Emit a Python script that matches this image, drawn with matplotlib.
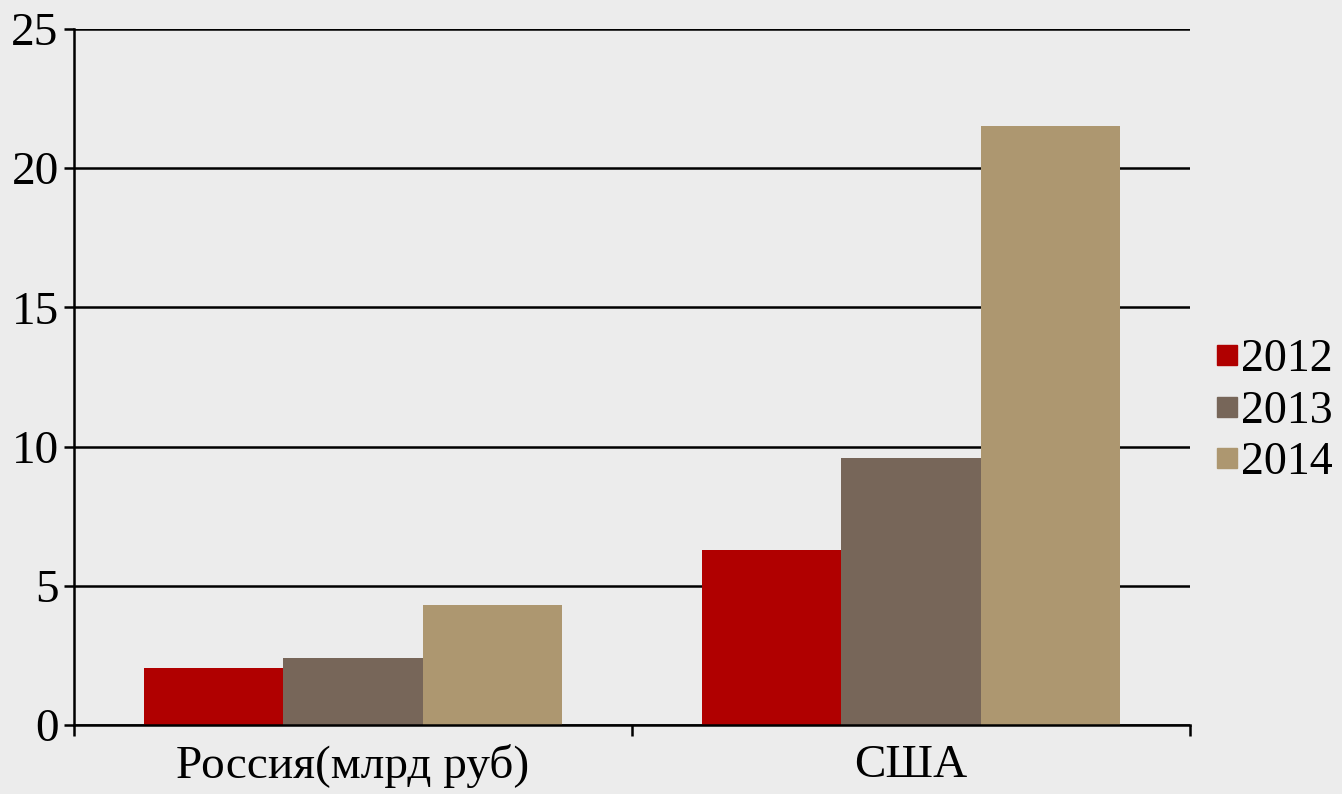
import numpy as np
import matplotlib.pyplot as plt
from matplotlib.lines import Line2D

# chart data
categories = ["Россия(млрд руб)", "США"]
years = ["2012", "2013", "2014"]
values_2012 = [2.05, 6.3]
values_2013 = [2.4, 9.6]
values_2014 = [4.3, 21.5]
colors = ["#B00000", "#776659", "#AD9770"]

plt.rcParams['font.family'] = ['Liberation Serif', 'DejaVu Serif']
bg = "#ECECEC"

fig = plt.figure(figsize=(13.42, 7.94), dpi=100, facecolor=bg)
ax = fig.add_axes([0.0551, 0.0869, 0.8316, 0.8766])
ax.set_facecolor(bg)

x = np.arange(len(categories))
w = 0.25
series = [values_2012, values_2013, values_2014]
for i, (vals, c) in enumerate(zip(series, colors)):
    ax.bar(x + (i - 1) * w, vals, width=w, color=c, zorder=3, label=years[i])

ax.set_xlim(-0.5, len(categories) - 0.5)
ax.set_ylim(0, 25)
ax.set_yticks(np.arange(0, 26, 5))
ax.yaxis.grid(True, color='black', linewidth=1.8, zorder=1)
ax.set_axisbelow(True)

# category boundaries as tick marks, labels on centers
ax.set_xticks(np.arange(-0.5, len(categories), 1.0))
ax.set_xticklabels([])
ax.set_xticks(x, minor=True)
ax.set_xticklabels(categories, minor=True)
ax.tick_params(axis='x', which='major', length=8, width=1.8, direction='out')
ax.tick_params(axis='x', which='minor', length=0, pad=14, labelsize=34)
ax.tick_params(axis='y', length=7, width=1.8, pad=4, labelsize=34)

for s in ['top', 'right']:
    ax.spines[s].set_visible(False)
for s in ['left', 'bottom']:
    ax.spines[s].set_linewidth(1.8)
    ax.spines[s].set_zorder(4)

handles = [Line2D([], [], marker='s', linestyle='none', markersize=14,
                  markerfacecolor=c, markeredgecolor=c) for c in colors]
fig.legend(handles, years, loc='center left', bbox_to_anchor=(0.906, 0.482),
           frameon=False, fontsize=33, handlelength=0.5, handletextpad=0.05,
           labelspacing=0.2, borderpad=0, borderaxespad=0)

plt.savefig('out.png', dpi=100, facecolor=bg)
plt.close()
